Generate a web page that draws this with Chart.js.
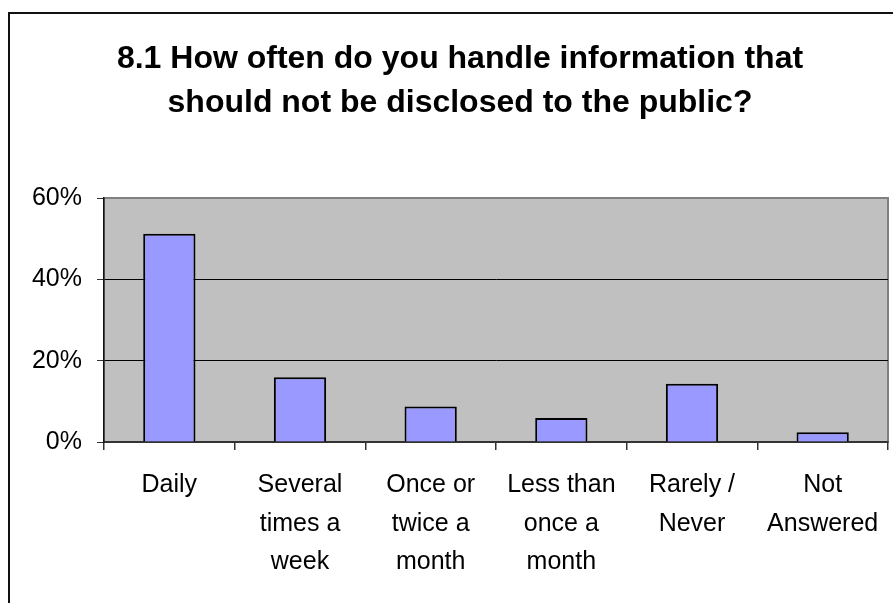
<!doctype html>
<html>
<head>
	<meta charset="utf-8">
	<title>8.1 How often do you handle information</title>
	<style>
		html, body { margin: 0; padding: 0; overflow: hidden; background: #fff; }
		#holder { position: relative; width: 920px; height: 603px; }
		#frame { position: absolute; left: 8px; top: 12px; width: 920px; height: 600px;
			border-left: 2px solid #111; border-top: 2px solid #111; pointer-events: none; }
	</style>
</head>
<body>
	<div id="holder">
		<canvas id="chart-area" width="920" height="603"></canvas>
		<div id="frame"></div>
	</div>
	<script src="https://cdn.jsdelivr.net/npm/chart.js@4/dist/chart.umd.min.js"></script>
	<script>
	var categories = [
		['Daily'],
		['Several', 'times a', 'week'],
		['Once or', 'twice a', 'month'],
		['Less than', 'once a', 'month'],
		['Rarely /', 'Never'],
		['Not', 'Answered']
	];
	var percents = [51.2, 15.9, 8.7, 5.9, 14.3, 2.4];
	var yTicks = [0, 20, 40, 60];
	var titleLines = ['8.1 How often do you handle information that', 'should not be disclosed to the public?'];

	// grey plot background with darker outline, axes draw over it
	var plotBackground = {
		id: 'plotBackground',
		beforeDraw: function(chart) {
			var a = chart.chartArea, ctx = chart.ctx;
			ctx.save();
			ctx.fillStyle = '#c0c0c0';
			ctx.fillRect(a.left, a.top, a.right - a.left, a.bottom - a.top);
			ctx.strokeStyle = '#808080';
			ctx.lineWidth = 2;
			ctx.strokeRect(a.left, a.top, a.right - a.left, a.bottom - a.top);
			ctx.restore();
		}
	};

	Chart.defaults.font.family = '"Liberation Sans", Arial, sans-serif';
	Chart.defaults.color = '#000';

	var config = {
		type: 'bar',
		data: {
			labels: categories,
			datasets: [{
				data: percents,
				backgroundColor: '#9999ff',
				borderColor: '#000',
				borderWidth: 2,
				barPercentage: 0.4,
				categoryPercentage: 1
			}]
		},
		options: {
			responsive: false,
			animation: false,
			layout: { padding: { left: 32, right: 32, top: 0, bottom: 0 } },
			plugins: {
				legend: { display: false },
				tooltip: { enabled: false },
				title: {
					display: true,
					text: titleLines,
					color: '#000',
					font: { size: 32, weight: 'bold', lineHeight: 1.375 },
					padding: { top: 37, bottom: 73 }
				}
			},
			scales: {
				x: {
					afterFit: function(scale) { scale.height = 161; },
					grid: { drawOnChartArea: false, offset: true, tickLength: 8, color: '#333', lineWidth: 1.5 },
					border: { color: '#333', width: 2 },
					ticks: { font: { size: 25, lineHeight: 1.54 }, padding: 16, maxRotation: 0, autoSkip: false }
				},
				y: {
					min: 0,
					max: 60,
					afterFit: function(scale) { scale.width = 72; },
					afterBuildTicks: function(scale) {
						scale.ticks = yTicks.map(function(v) { return { value: v }; });
					},
					grid: {
						tickLength: 7,
						color: function(c) { return c.tick && c.tick.value === 60 ? '#808080' : '#000'; },
						tickColor: '#333'
					},
					border: { color: '#111', width: 1.5 },
					ticks: {
						font: { size: 25 },
						padding: 15,
						callback: function(v) { return v + '%'; }
					}
				}
			}
		},
		plugins: [plotBackground]
	};

	window.onload = function() {
		var ctx = document.getElementById('chart-area').getContext('2d');
		window.myBar = new Chart(ctx, config);
	};
	</script>
</body>
</html>
